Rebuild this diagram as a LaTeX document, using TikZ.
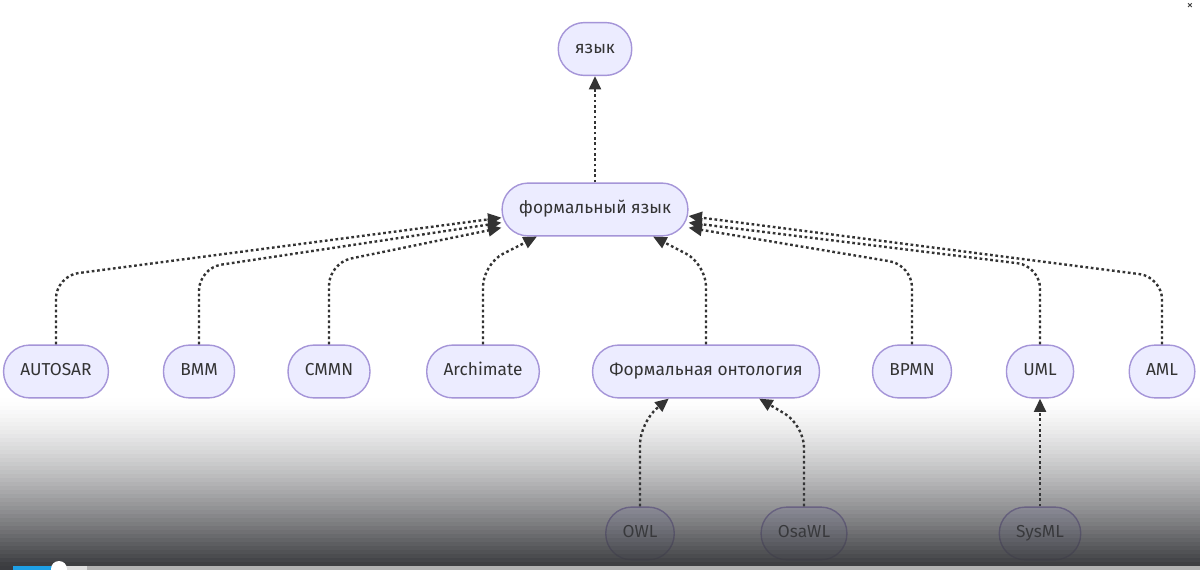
\documentclass[tikz,border=0pt]{standalone}
\usepackage{fontspec}
\setmainfont{Fira Sans}
\usetikzlibrary{arrows.meta}

\definecolor{termfill}{HTML}{ECECFF}
\definecolor{termline}{HTML}{A595D8}
\definecolor{inkgray}{HTML}{333333}
\definecolor{shadegray}{HTML}{3B3C40}
\definecolor{barblue}{HTML}{1EA0E6}

\tikzset{
  term/.style={draw=termline, fill=termfill, line width=1pt, text=inkgray,
    rounded corners=0.65cm, minimum height=1.32cm, inner xsep=0.42cm,
    text height=1.7ex, text depth=0.5ex,
    font=\fontsize{12.3}{14}\selectfont},
  link/.style={inkgray, line width=1.7pt, dash pattern=on 1.9pt off 1.9pt,
    rounded corners=16pt, -{Triangle[length=9.5pt,width=8.5pt]}}
}

\begin{document}
\begin{tikzpicture}[x=0.025cm,y=-0.025cm]
        % page and background
        \useasboundingbox (0,0) rectangle (1200,570);
        \fill[white] (0,0) rectangle (1200,570);

        % top levels
        \node[term] (lang) at (595,49) {язык};
        \node[term] (formal) at (595,209.5) {формальный язык};

        % middle row
        \node[term] (autosar) at (56,371.5) {AUTOSAR};
        \node[term] (bmm) at (199,371.5) {BMM};
        \node[term] (cmmn) at (329,371.5) {CMMN};
        \node[term] (archi) at (483,371.5) {Archimate};
        \node[term] (onto) at (706,371.5) {Формальная онтология};
        \node[term] (bpmn) at (912,371.5) {BPMN};
        \node[term] (uml) at (1040,371.5) {UML};
        \node[term] (aml) at (1162,371.5) {AML};

        % bottom row
        \node[term] (owl) at (640,533.5) {OWL};
        \node[term] (osawl) at (804,533.5) {OsaWL};
        \node[term] (sysml) at (1040,533.5) {SysML};

        % links
        \draw[link] (formal.north) -- (lang.south);
        \draw[link] (autosar.north) -- (56,276) -- (formal.185);
        \draw[link] (bmm.north) -- (199,268) -- (formal.188);
        \draw[link] (cmmn.north) -- (329,263) -- (formal.191);
        \draw[link] (archi.north) -- (483,264) -- (formal.205);
        \draw[link] (onto.north) -- (706,264) -- (formal.335);
        \draw[link] (bpmn.north) -- (912,265) -- (formal.349);
        \draw[link] (uml.north) -- (1040,266) -- (formal.352);
        \draw[link] (aml.north) -- (1162,277) -- (formal.356);
        \draw[link] (owl.north) -- (640,422) -- (onto.216);
        \draw[link] (osawl.north) -- (804,425) -- (onto.333);
        \draw[link] (sysml.north) -- (uml.south);

        % video shading at the bottom, in thin strips
        \foreach \k in {0,...,41} {
                \pgfmathsetmacro\op{((\k+0.5)/42)^1.4}
                \fill[shadegray, fill opacity=\op] (0,398+4*\k) rectangle (1200,402+4*\k);
            }

        % player bar
        \fill[shadegray] (0,566) rectangle (1200,570);
        \fill[gray!60] (13,566) rectangle (1200,570);
        \fill[gray!25] (13,566) rectangle (87,570);
        \fill[barblue] (13,566) rectangle (55,570);
        \fill[white] (59,569) circle (8);
        \node[text=inkgray, font=\small] (close) at (1190,6) {×};
    \end{tikzpicture}
\end{document}
